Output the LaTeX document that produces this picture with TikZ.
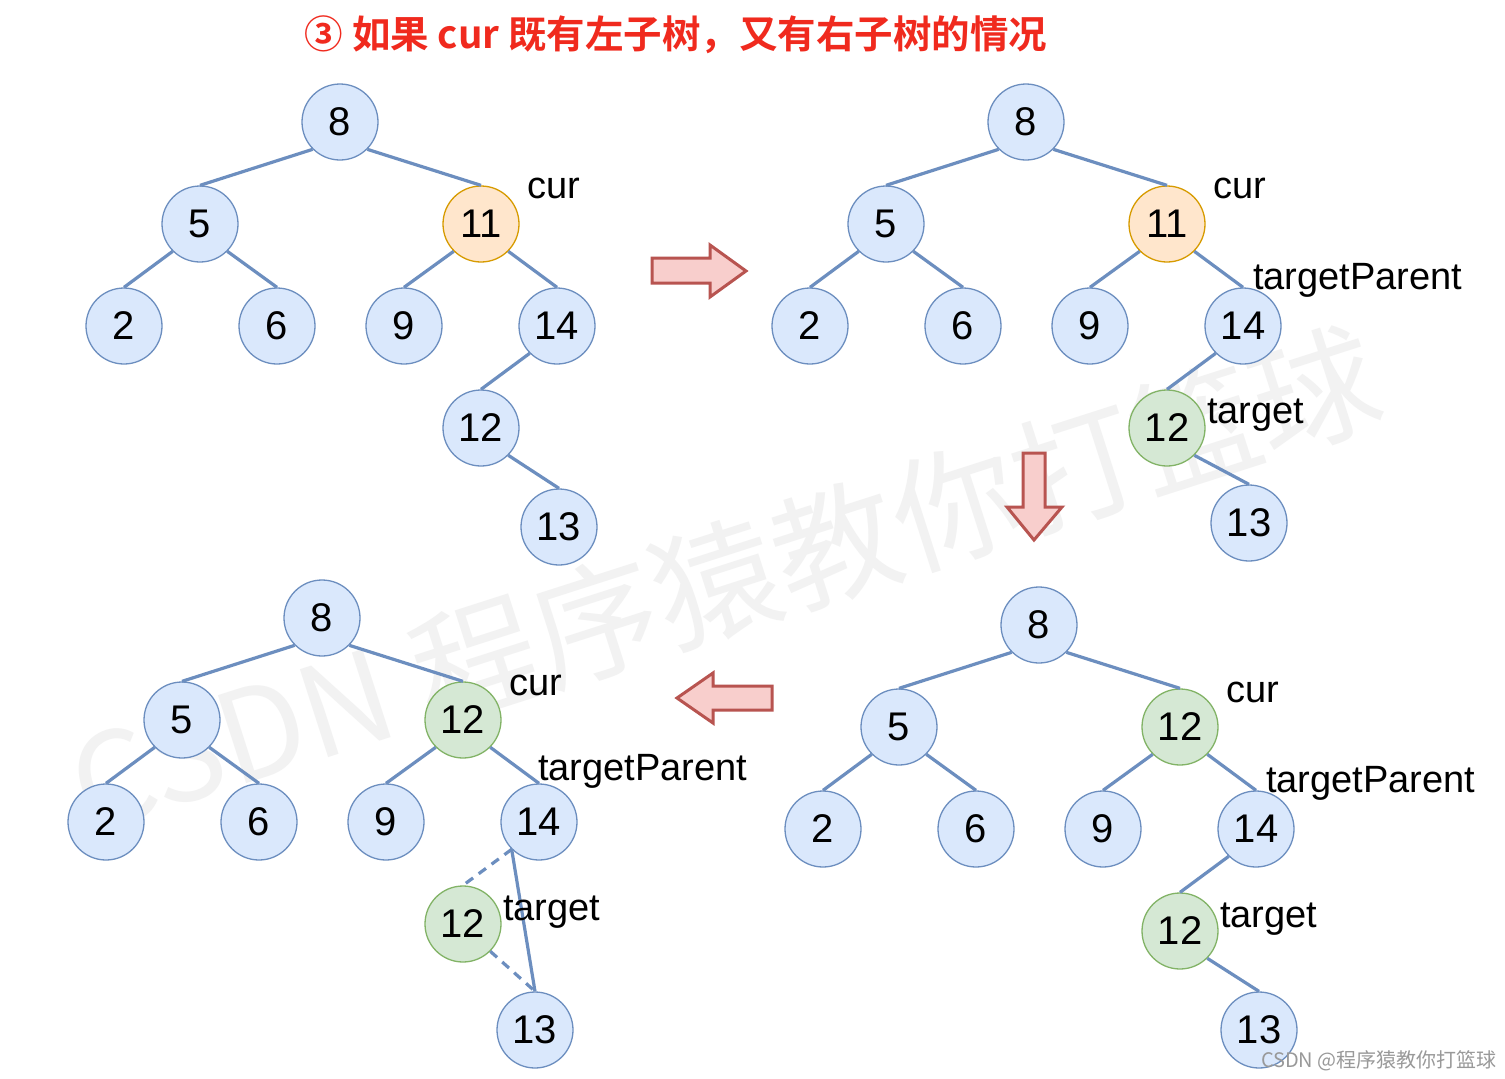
\documentclass[tikz,border=0pt]{standalone}
\usepackage{fontspec}
\setmainfont{Liberation Sans}
\newfontfamily\cjk{Noto Sans CJK SC}
\newfontfamily\cjkb{Noto Sans CJK SC Bold}
\definecolor{nfill}{HTML}{DAE8FC}
\definecolor{ndraw}{HTML}{6C8EBF}
\definecolor{ofill}{HTML}{FFE6CC}
\definecolor{odraw}{HTML}{D79B00}
\definecolor{gfill}{HTML}{D5E8D4}
\definecolor{gdraw}{HTML}{82B366}
\definecolor{afill}{HTML}{F8CECC}
\definecolor{adraw}{HTML}{B85450}
\definecolor{titlered}{HTML}{F02A1E}
\begin{document}
\begin{tikzpicture}[x=1pt,y=-1pt,
 tn/.style={circle,minimum size=76pt,inner sep=0pt,draw=ndraw,fill=nfill,line width=1.3pt,font=\fontsize{40}{40}\selectfont},
 curn/.style={tn,draw=odraw,fill=ofill},
 tgn/.style={tn,draw=gdraw,fill=gfill},
 edge/.style={draw=ndraw,line width=3.2pt},
 dedge/.style={edge,dash pattern=on 9pt off 7pt},
 lab/.style={anchor=base west,inner sep=0pt,font=\fontsize{38}{38}\selectfont},
 bigarrow/.style={draw=adraw,fill=afill,line width=3pt,line join=miter}]
\useasboundingbox[fill=white] (0,0) rectangle (1505,1079);
% watermark
\node[rotate=17.8,text=black!5,font=\cjk\fontsize{126}{126}\selectfont] (wm) at (725,580) {CSDN 程序猿教你打篮球};
% title
\node[text=titlered,font=\cjkb\fontsize{38.5}{38.5}\selectfont] (title) at (676,35) {③ 如果 cur 既有左子树，又有右子树的情况};

% panel 1
\node[tn] (a8) at (340,122) {8};
\node[tn] (a5) at (200,224) {5};
\node[curn] (a11) at (481,224) {11};
\node[tn] (a2) at (124,326) {2};
\node[tn] (a6) at (277,326) {6};
\node[tn] (a9) at (404,326) {9};
\node[tn] (a14) at (557,326) {14};
\node[tn] (a12) at (481,428) {12};
\node[tn] (a13) at (559,527) {13};
\draw[edge] (a8.-135) -- (a5.north);
\draw[edge] (a8.-45) -- (a11.north);
\draw[edge] (a5.-135) -- (a2.north);
\draw[edge] (a5.-45) -- (a6.north);
\draw[edge] (a11.-135) -- (a9.north);
\draw[edge] (a11.-45) -- (a14.north);
\draw[edge] (a14.-135) -- (a12.north);
\draw[edge] (a12.-45) -- (a13.north);
\node[lab] (acur) at (527,198) {cur};

% panel 2
\node[tn] (b8) at (1026,122) {8};
\node[tn] (b5) at (886,224) {5};
\node[curn] (b11) at (1167,224) {11};
\node[tn] (b2) at (810,326) {2};
\node[tn] (b6) at (963,326) {6};
\node[tn] (b9) at (1090,326) {9};
\node[tn] (b14) at (1243,326) {14};
\node[tgn] (b12) at (1167,428) {12};
\node[tn] (b13) at (1249,523) {13};
\draw[edge] (b8.-135) -- (b5.north);
\draw[edge] (b8.-45) -- (b11.north);
\draw[edge] (b5.-135) -- (b2.north);
\draw[edge] (b5.-45) -- (b6.north);
\draw[edge] (b11.-135) -- (b9.north);
\draw[edge] (b11.-45) -- (b14.north);
\draw[edge] (b14.-135) -- (b12.north);
\draw[edge] (b12.-45) -- (b13.north);
\node[lab] (bcur) at (1213,198) {cur};
\node[lab] (btp) at (1253,289) {targetParent};
\node[lab] (btg) at (1207,423) {target};

% panel 3 (bottom right)
\node[tn] (c8) at (1039,625) {8};
\node[tn] (c5) at (899,727) {5};
\node[tgn] (c12a) at (1180,727) {12};
\node[tn] (c2) at (823,829) {2};
\node[tn] (c6) at (976,829) {6};
\node[tn] (c9) at (1103,829) {9};
\node[tn] (c14) at (1256,829) {14};
\node[tgn] (c12) at (1180,931) {12};
\node[tn] (c13) at (1259,1030) {13};
\draw[edge] (c8.-135) -- (c5.north);
\draw[edge] (c8.-45) -- (c12a.north);
\draw[edge] (c5.-135) -- (c2.north);
\draw[edge] (c5.-45) -- (c6.north);
\draw[edge] (c12a.-135) -- (c9.north);
\draw[edge] (c12a.-45) -- (c14.north);
\draw[edge] (c14.-135) -- (c12.north);
\draw[edge] (c12.-45) -- (c13.north);
\node[lab] (ccur) at (1226,702) {cur};
\node[lab] (ctp) at (1266,792) {targetParent};
\node[lab] (ctg) at (1220,927) {target};

% panel 4 (bottom left)
\node[tn] (d8) at (322,618) {8};
\node[tn] (d5) at (182,720) {5};
\node[tgn] (d12a) at (463,720) {12};
\node[tn] (d2) at (106,822) {2};
\node[tn] (d6) at (259,822) {6};
\node[tn] (d9) at (386,822) {9};
\node[tn] (d14) at (539,822) {14};
\node[tgn] (d12) at (463,924) {12};
\node[tn] (d13) at (535,1030) {13};
\draw[edge] (d8.-135) -- (d5.north);
\draw[edge] (d8.-45) -- (d12a.north);
\draw[edge] (d5.-135) -- (d2.north);
\draw[edge] (d5.-45) -- (d6.north);
\draw[edge] (d12a.-135) -- (d9.north);
\draw[edge] (d12a.-45) -- (d14.north);
\draw[dedge] (d14.-135) -- (d12.north);
\draw[dedge] (d12.-45) -- (d13.north);
\draw[edge] (d14.-135) -- (d13.north);
\node[lab] (dcur) at (509,695) {cur};
\node[lab] (dtp) at (538,780) {targetParent};
\node[lab] (dtg) at (503,920) {target};

% big arrows
\draw[bigarrow] (652,258) -- (710,258) -- (710,245) -- (746,271) -- (710,297) -- (710,283) -- (652,283) -- cycle;
\draw[bigarrow] (1023,453) -- (1045,453) -- (1045,507) -- (1062,507) -- (1034,540) -- (1007,507) -- (1023,507) -- cycle;
\draw[bigarrow] (772,686) -- (713,686) -- (713,673) -- (677,698) -- (713,723) -- (713,710) -- (772,710) -- cycle;

% corner watermark (on top)
\node[anchor=base east,inner sep=0pt,text=black!40,font=\cjk\fontsize{20}{20}\selectfont] (wm2) at (1497,1067) {CSDN @程序猿教你打篮球};
\end{tikzpicture}
\end{document}
